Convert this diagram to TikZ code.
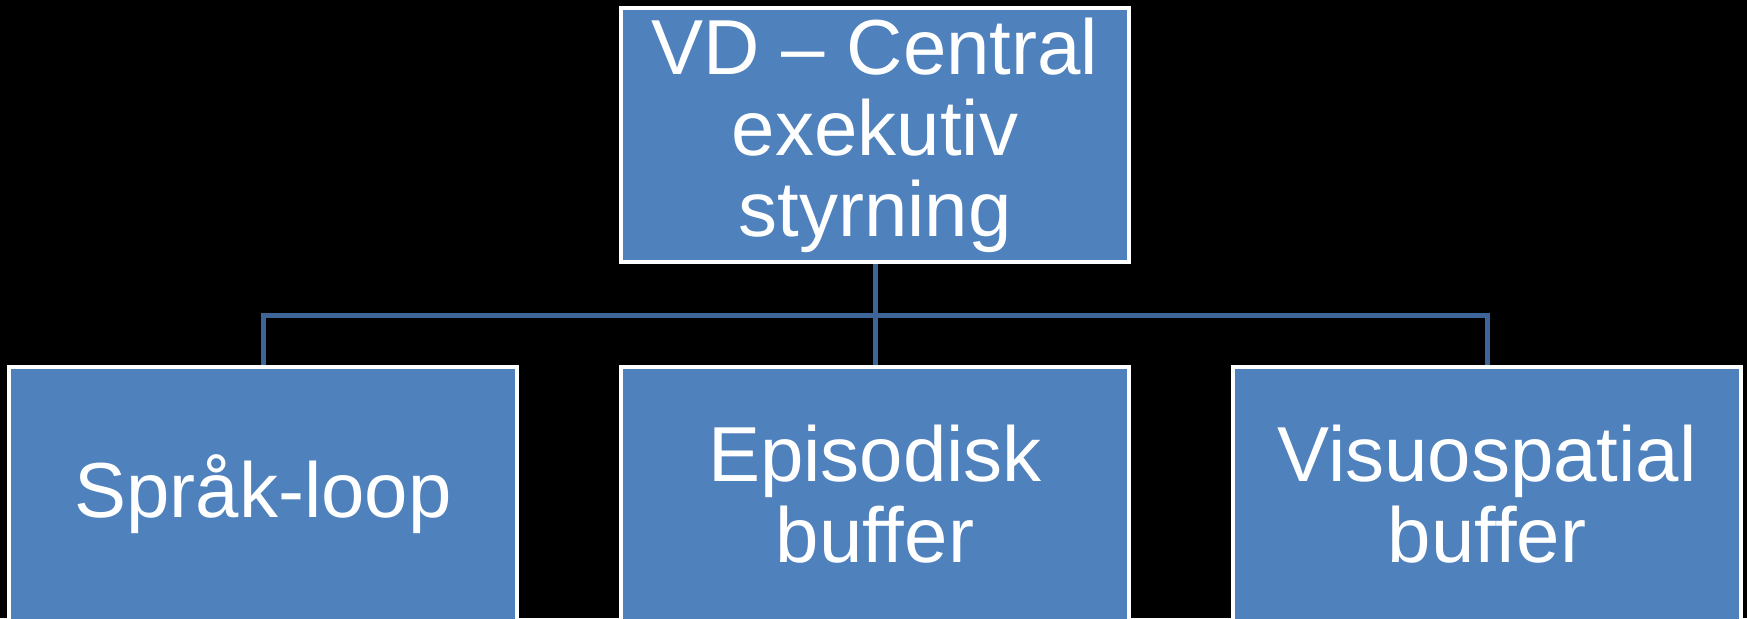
\documentclass[tikz,border=0pt]{standalone}
\usepackage{fontspec}
\setmainfont{Liberation Sans}
\usetikzlibrary{backgrounds}
\definecolor{boxblue}{HTML}{4F81BD}
\definecolor{linkblue}{HTML}{3D6597}

\begin{document}
\begin{tikzpicture}[x=0.5pt,y=-0.5pt,
  unit/.style={draw=white,line width=2pt,fill=boxblue,text=white,
    minimum width=254pt,minimum height=127pt,inner sep=0pt,align=center,
    font=\fontsize{39}{40.5}\selectfont},
  link/.style={draw=linkblue,line width=2.5pt}]
\useasboundingbox (0,0) rectangle (1747,618);
\node[unit] (vd) at (875,135) {VD -- Central\\exekutiv\\styrning};
\node[unit] (sprak) at (263,494) {Språk-loop};
\node[unit] (episod) at (875,494) {Episodisk\\buffer};
\node[unit] (visuo) at (1487,494) {Visuospatial\\buffer};
\coordinate (bus) at (875,315);
\begin{pgfonlayer}{background}
\fill[black] (0,0) rectangle (1747,618);
\draw[link] (vd.south) -- (episod.north);
\draw[link] (sprak.north) |- (bus) -| (visuo.north);
\end{pgfonlayer}
\end{tikzpicture}
\end{document}
